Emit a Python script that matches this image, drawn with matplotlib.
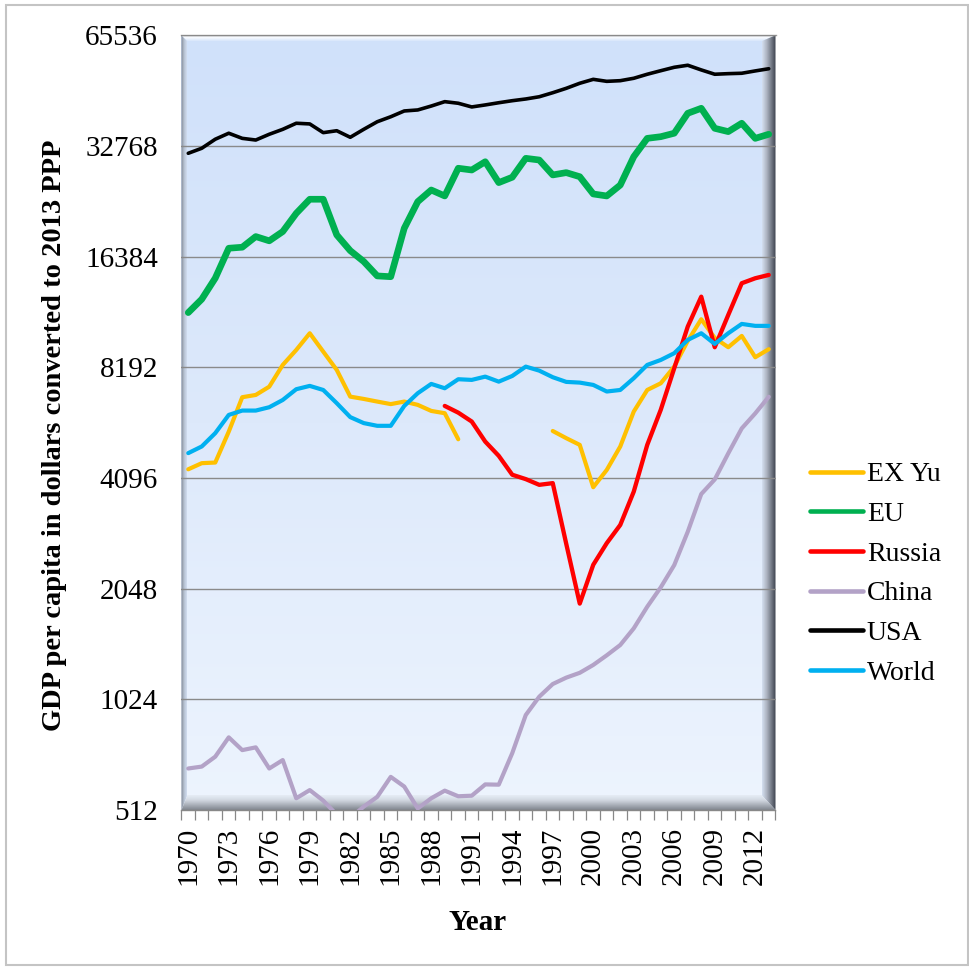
import numpy as np
import matplotlib
matplotlib.use("Agg")
import matplotlib.pyplot as plt
from matplotlib.colors import LinearSegmentedColormap
from matplotlib.patches import Polygon, Rectangle
from matplotlib.ticker import NullLocator

nan = np.nan

# ---- data: GDP per capita (2013 PPP dollars) ----
years = list(range(1970, 2014))

ex_yu = [4325, 4494, 4512, 5475, 6793, 6890, 7256, 8316, 9133, 10140,
         9036, 8059, 6818, 6720, 6610, 6506, 6610, 6475, 6234, 6145,
         5220, nan, nan, nan, nan, nan, nan, 5498, 5256, 5040,
         3866, 4308, 4988, 6208, 7108, 7412, 8228, 9665, 11070, 9847,
         9290, 9972, 8725, 9176]

eu = [11540, 12550, 14320, 17270, 17380, 18580, 18090, 19170, 21490, 23470,
      23470, 18770, 17010, 15890, 14520, 14450, 19570, 23120, 24870, 23960,
      28500, 28190, 29690, 26050, 26940, 30330, 30010, 27330, 27730, 27030,
      24260, 23960, 25650, 30640, 34370, 34730, 35490, 40210, 41490, 36600,
      35850, 37780, 34370, 35260]

russia = [nan] * 19 + [6432,
          6167, 5833, 5144, 4705, 4180, 4067, 3924, 3966, 2711, 1865,
          2378, 2723, 3052, 3760, 5040, 6277, 8147, 10570, 12750, 9290,
          11370, 13870, 14310, 14610]

china = [664, 672, 715, 807, 745, 758, 664, 700, 551, 580,
         543, 497, 487, 523, 556, 630, 593, 517, 551, 578,
         558, 560, 601, 600, 731, 928, 1041, 1127, 1173, 1209,
         1270, 1349, 1439, 1597, 1829, 2065, 2374, 2925, 3704, 4059,
         4778, 5588, 6139, 6812]

usa = [31300, 32300, 34180, 35490, 34370, 34010, 35260, 36370, 37780, 37620,
       35620, 36050, 34600, 36370, 38140, 39350, 40800, 41060, 42080, 43250,
       42820, 41840, 42370, 42960, 43510, 43980, 44600, 45740, 47020, 48530,
       49740, 49120, 49320, 50070, 51350, 52500, 53640, 54330, 52760, 51350,
       51540, 51670, 52430, 53150]

world = [4786, 4990, 5424, 6080, 6248, 6248, 6380, 6677, 7142, 7292,
         7108, 6544, 5997, 5776, 5679, 5679, 6432, 6965, 7383, 7185,
         7603, 7571, 7728, 7489, 7760, 8228, 8023, 7700, 7477, 7444,
         7337, 7040, 7108, 7651, 8316, 8578, 8949, 9725, 10140, 9484,
         10140, 10750, 10620, 10620]

series_names = ["EX Yu", "EU", "Russia", "China", "USA", "World"]
series_values = [ex_yu, eu, russia, china, usa, world]
series_colors = ["#FFC000", "#00B050", "#FF0000", "#B3A2C7", "#000000", "#00B0F0"]
series_widths = [3.0, 4.8, 3.1, 3.0, 2.6, 3.0]

y_ticks = [512, 1024, 2048, 4096, 8192, 16384, 32768, 65536]
x_label_years = list(range(1970, 2014, 3))

# ---- figure & layout (pixel based) ----
W, H = 970, 969
plt.rcParams["font.family"] = ["Liberation Serif", "DejaVu Serif"]
fig = plt.figure(figsize=(W / 100, H / 100), dpi=100)
fig.patch.set_facecolor("white")

L, R, T, B = 181.5, 775.5, 35.3, 810.0
rect = [L / W, 1 - B / H, (R - L) / W, (B - T) / H]

# background panel with a bevelled frame
bgax = fig.add_axes(rect, zorder=0)
bgax.set_xlim(0, 1)
bgax.set_ylim(0, 1)
bgax.axis("off")

def gradient(axis, extent, colors, horizontal, clip=None):
    cmap = LinearSegmentedColormap.from_list("g", colors)
    g = np.linspace(0, 1, 256)
    arr = g.reshape(1, -1) if horizontal else g.reshape(-1, 1)
    im = axis.imshow(arr, cmap=cmap, extent=extent, origin="lower",
                     aspect="auto", interpolation="bilinear", zorder=1)
    if clip is not None:
        poly = Polygon(clip, closed=True, transform=axis.transData)
        im.set_clip_path(poly)
    return im

gradient(bgax, [0, 1, 0, 1], ["#edf4fe", "#dde9fb", "#d0e1fa"], False)

pw, ph = R - L, B - T
wL, wR = 6 / pw, 14 / pw
tT, bB = 6 / ph, 15 / ph

# left wall
gradient(bgax, [0, wL, 0, 1], ["#7c828e", "#b4bfcf", "#d2def1"], True,
         clip=[(0, 0), (wL, bB), (wL, 1 - tT), (0, 1)])
# top edge
gradient(bgax, [0, 1, 1 - tT, 1], ["#d6e5fb", "#f4f8fe", "#ffffff"], False,
         clip=[(0, 1), (wL, 1 - tT), (1 - wR, 1 - tT), (1, 1)])
# right edge
gradient(bgax, [1 - wR, 1, 0, 1], ["#d5e0f1", "#aeb5c2", "#767c88", "#3a404c"], True,
         clip=[(1, 1), (1 - wR, 1 - tT), (1 - wR, bB), (1, 0)])
# floor
gradient(bgax, [0, 1, 0, bB], ["#7f858e", "#a9afb8", "#d3d9e2", "#e6edf6"], False,
         clip=[(0, 0), (1, 0), (1 - wR, bB), (wL, bB)])
bgax.plot([0, 1], [1, 1], color="#9a9a9a", lw=1.0, zorder=2, clip_on=False)

# ---- data axes ----
ax = fig.add_axes(rect, zorder=1)
ax.patch.set_alpha(0)

for name, vals, col, lw in zip(series_names, series_values, series_colors, series_widths):
    ax.plot(years, vals, color=col, lw=lw, label=name, zorder=3,
            solid_joinstyle="round", solid_capstyle="round")

ax.set_yscale("log", base=2)
ax.set_ylim(y_ticks[0], y_ticks[-1])
ax.set_yticks(y_ticks)
ax.set_yticklabels([str(v) for v in y_ticks])
ax.yaxis.set_minor_locator(NullLocator())
ax.tick_params(axis="y", length=0, pad=17, labelsize=21)

ax.set_xlim(years[0] - 0.5, years[-1] + 0.5)
ax.set_xticks(x_label_years)
ax.set_xticklabels([str(y) for y in x_label_years], rotation=90)
ax.set_xticks(np.arange(years[0] - 0.5, years[-1] + 1, 1), minor=True)
ax.tick_params(axis="x", which="major", length=0, pad=12, labelsize=21)
ax.tick_params(axis="x", which="minor", length=7, width=0.9,
               color="#888888", direction="out")

ax.yaxis.grid(True, color="#8a8a8a", lw=1.0)
ax.set_axisbelow("line")
for side in ["left", "right", "top"]:
    ax.spines[side].set_visible(False)
ax.spines["bottom"].set_color("#888888")
ax.spines["bottom"].set_linewidth(1.0)

fig.text(55 / W, 1 - 435 / H, "GDP per capita in dollars converted to 2013 PPP",
         rotation=90, ha="center", va="center", fontsize=20.5, fontweight="bold")
fig.text(478 / W, 1 - 923 / H, "Year", ha="center", va="center",
         fontsize=21, fontweight="bold")

leg = ax.legend(loc="upper left", bbox_to_anchor=(810 / W, 1 - 462 / H),
                bbox_transform=fig.transFigure, frameon=False, fontsize=20,
                handlelength=1.9, handletextpad=0.15, labelspacing=0.51,
                borderpad=0, borderaxespad=0)
for h in leg.get_lines():
    h.set_linewidth(3.3)

fig.patches.append(Rectangle((6 / W, 1 - 965 / H), 962 / W, 960 / H,
                             transform=fig.transFigure, fill=False,
                             edgecolor="#c4c4c4", lw=1.5))

fig.savefig("out.png", dpi=100)
